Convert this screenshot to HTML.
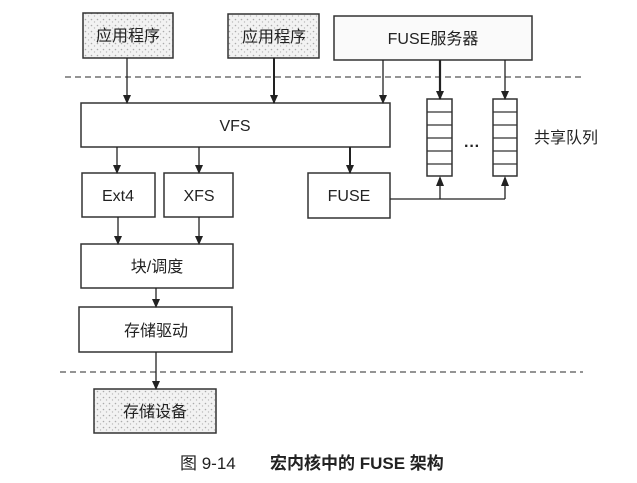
<!DOCTYPE html>
<html><head><meta charset="utf-8"><style>
html,body{margin:0;padding:0;background:#fff;}
svg{display:block;}
text{font-family:"Liberation Sans","Noto Sans CJK SC",sans-serif;fill:#222;}
</style></head><body>
<svg width="637" height="483" viewBox="0 0 637 483" xmlns="http://www.w3.org/2000/svg">
<defs>
<marker id="a" markerWidth="9" markerHeight="8" refX="8" refY="4" orient="auto" markerUnits="userSpaceOnUse"><path d="M0,0 L9,4 L0,8 z" fill="#222"/></marker>
<pattern id="dots" width="6" height="6" patternUnits="userSpaceOnUse"><rect width="6" height="6" fill="#f2f2f2"/><circle cx="1.5" cy="1.5" r="0.8" fill="#aaa"/><circle cx="4.5" cy="4" r="0.7" fill="#bbb"/></pattern>
</defs>
<g stroke="#333" stroke-width="1.5" fill="#fff">
<rect x="83" y="13" width="90" height="45" fill="url(#dots)"/>
<rect x="228" y="14" width="91" height="44" fill="url(#dots)"/>
<rect x="334" y="16" width="198" height="44" fill="#fafafa"/>
<rect x="81" y="103" width="309" height="44"/>
<rect x="82" y="173" width="73" height="44"/>
<rect x="164" y="173" width="69" height="44"/>
<rect x="308" y="173" width="82" height="45"/>
<rect x="81" y="244" width="152" height="44"/>
<rect x="79" y="307" width="153" height="45"/>
<rect x="94" y="389" width="122" height="44" fill="url(#dots)"/>
<rect x="427" y="99" width="25" height="77"/>
<rect x="493" y="99" width="24" height="77"/>
</g>
<g stroke="#333" stroke-width="1.2">
<line x1="427" y1="112" x2="452" y2="112"/><line x1="427" y1="125" x2="452" y2="125"/><line x1="427" y1="138" x2="452" y2="138"/><line x1="427" y1="151" x2="452" y2="151"/><line x1="427" y1="164" x2="452" y2="164"/>
<line x1="493" y1="112" x2="517" y2="112"/><line x1="493" y1="125" x2="517" y2="125"/><line x1="493" y1="138" x2="517" y2="138"/><line x1="493" y1="151" x2="517" y2="151"/><line x1="493" y1="164" x2="517" y2="164"/>
</g>
<g stroke="#555" stroke-width="1.2" stroke-dasharray="6,4">
<line x1="65" y1="77" x2="583" y2="77"/>
<line x1="60" y1="372" x2="583" y2="372"/>
</g>
<g stroke="#222" stroke-width="1.3" fill="none" marker-end="url(#a)">
<line x1="127" y1="58" x2="127" y2="103"/>
<line x1="274" y1="58" x2="274" y2="103" stroke-width="2"/>
<line x1="383" y1="60" x2="383" y2="103"/>
<line x1="440" y1="60" x2="440" y2="99" stroke-width="2.2"/>
<line x1="505" y1="60" x2="505" y2="99"/>
<line x1="117" y1="147" x2="117" y2="173"/>
<line x1="199" y1="147" x2="199" y2="173"/>
<line x1="350" y1="147" x2="350" y2="173" stroke-width="2"/>
<line x1="118" y1="217" x2="118" y2="244"/>
<line x1="199" y1="217" x2="199" y2="244"/>
<line x1="156" y1="288" x2="156" y2="307"/>
<line x1="156" y1="352" x2="156" y2="389"/>
</g>
<g stroke="#222" stroke-width="1.3" fill="none">
<polyline points="390,199 505,199"/>
<line x1="440" y1="199" x2="440" y2="178"/>
<line x1="505" y1="199" x2="505" y2="178"/>
</g>
<path d="M436,186 L444,186 L440,176 z M501,186 L509,186 L505,176 z" fill="#222"/>
<g font-size="16" text-anchor="middle">
<text x="128" y="41">应用程序</text>
<text x="274" y="42">应用程序</text>
<text x="433" y="44">FUSE服务器</text>
<text x="235" y="131">VFS</text>
<text x="118" y="201">Ext4</text>
<text x="199" y="201">XFS</text>
<text x="349" y="201">FUSE</text>
<text x="157" y="272">块/调度</text>
<text x="156" y="336">存储驱动</text>
<text x="155" y="417">存储设备</text>
<text x="566" y="143">共享队列</text>
<text x="472" y="151" font-weight="bold">···</text>
</g>
<text x="180" y="469" font-size="17" fill="#333">图 9-14</text>
<text x="270" y="469" font-size="17" font-weight="bold" fill="#333">宏内核中的 FUSE 架构</text>
</svg>
</body></html>
